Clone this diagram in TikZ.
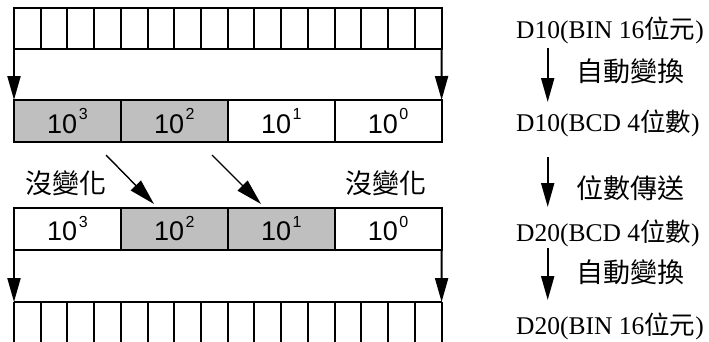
\documentclass[tikz,border=0pt]{standalone}
\usepackage{fontspec}
\setmainfont{Liberation Serif}
\newfontfamily\cjk{Noto Sans CJK TC}
\newfontfamily\arial{Liberation Sans}
\usetikzlibrary{arrows.meta}
\newcommand{\pw}[2]{{\arial\fontsize{27}{27}\selectfont #1\hspace{1.5pt}\raisebox{13.5pt}{\fontsize{16}{16}\selectfont #2}}}
\begin{document}
\begin{tikzpicture}[x=1pt,y=-1pt,
  reg/.style={line width=2pt},
  bitcell/.style={draw,line width=2pt,minimum width=26.72pt,minimum height=41pt,inner sep=0pt,outer sep=0pt},
  bcdcell/.style={draw,line width=2pt,minimum width=106.9pt,minimum height=42pt,inner sep=0pt,outer sep=0pt},
  shaded/.style={fill=black!25},
  varr/.style={line width=2pt,-{Triangle[length=24pt,width=13pt]}},
  darr/.style={line width=1.4pt,-{Triangle[length=26pt,width=14pt]}},
  rtext/.style={anchor=base west,inner sep=0pt,font=\fontsize{25.5}{25.5}\selectfont},
  lab/.style={inner sep=0pt,font=\cjk\fontsize{27}{27}\selectfont}]
\useasboundingbox (0,0) rectangle (709,341);
% top 16-bit register
\foreach \i in {1,...,16}{
  \node[bitcell] (t\i) at ({14+26.72*(\i-0.5)},28.5) {};
}
% BCD register D10
\node[bcdcell,shaded] (a1) at (67.45,121) {\pw{10}{3}};
\node[bcdcell,shaded] (a2) at (174.35,121) {\pw{10}{2}};
\node[bcdcell] (a3) at (281.25,121) {\pw{10}{1}};
\node[bcdcell] (a4) at (388.15,121) {\pw{10}{0}};
% BCD register D20
\node[bcdcell] (b1) at (67.45,228.5) {\pw{10}{3}};
\node[bcdcell,shaded] (b2) at (174.35,228.5) {\pw{10}{2}};
\node[bcdcell,shaded] (b3) at (281.25,228.5) {\pw{10}{1}};
\node[bcdcell] (b4) at (388.15,228.5) {\pw{10}{0}};
% bottom 16-bit register (bottom edge cut off)
\coordinate (bl) at (14,302);
\coordinate (br) at (441.6,302);
\draw[reg] (bl) -- (br);
\foreach \i in {0,...,16}{
  \draw[reg] ({14+26.72*\i},302) -- ({14+26.72*\i},345);
}
% conversion arrows
\draw[varr] (t1.south west) -- (a1.north west);
\draw[varr] (t16.south east) -- (a4.north east);
\draw[varr] (b1.south west) -- (bl);
\draw[varr] (b4.south east) -- (br);
% shift arrows
\coordinate (s1) at (106,155);
\coordinate (e1) at (154,204);
\coordinate (s2) at (212,155);
\coordinate (e2) at (261,204);
\draw[darr] (s1) -- (e1);
\draw[darr] (s2) -- (e2);
\node[lab] (nc1) at (66,183) {沒變化};
\node[lab] (nc2) at (386,183) {沒變化};
% right column
\node[rtext] (r1) at (516,38.3) {D10(BIN 16{\cjk 位元})};
\node[rtext] (r2) at (516,131.7) {D10(BCD 4{\cjk 位數})};
\node[rtext] (r3) at (516,241.7) {D20(BCD 4{\cjk 位數})};
\node[rtext] (r4) at (516,334.5) {D20(BIN 16{\cjk 位元})};
\coordinate (p1) at (547.7,48);
\coordinate (q1) at (547.7,102);
\coordinate (p2) at (547.7,157);
\coordinate (q2) at (547.7,207);
\coordinate (p3) at (547.7,248);
\coordinate (q3) at (547.7,300);
\draw[varr] (p1) -- (q1);
\draw[varr] (p2) -- (q2);
\draw[varr] (p3) -- (q3);
\node[lab,anchor=west] (l1) at (576,71.5) {自動變換};
\node[lab,anchor=west] (l2) at (576,188) {位數傳送};
\node[lab,anchor=west] (l3) at (576,272) {自動變換};
\end{tikzpicture}
\end{document}
